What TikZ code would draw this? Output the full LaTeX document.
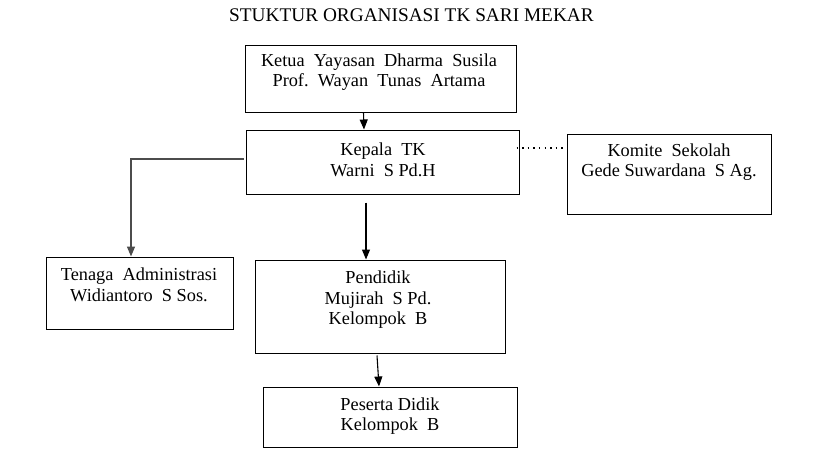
\documentclass[tikz,border=0pt]{standalone}
\usepackage{fontspec}
\setmainfont{Liberation Serif}
\usetikzlibrary{arrows.meta}
\begin{document}
\begin{tikzpicture}[x=1pt,y=-1pt,
  box/.style={draw,line width=1pt,inner sep=0pt},
  txt/.style={align=center,inner sep=0pt,font=\fontsize{18.3}{20.5}\selectfont},
  tip/.style={-{Triangle[width=8pt,length=10pt]}},
  arr/.style={line width=1.1pt,tip}]
\useasboundingbox (0,0) rectangle (814,455);
\fill[white] (0,0) rectangle (814,455);
\node[inner sep=0pt,font=\fontsize{19.3}{21}\selectfont] (title) at (411.5,15) {STUKTUR ORGANISASI TK SARI MEKAR};
% boxes
\node[box,minimum width=271pt,minimum height=67pt] (ketua) at (380.5,78.5) {};
\node[box,minimum width=273pt,minimum height=64pt] (kepala) at (382.5,162) {};
\node[box,minimum width=204pt,minimum height=80pt] (komite) at (669,174) {};
\node[box,minimum width=187pt,minimum height=72pt] (tenaga) at (139.5,293) {};
\node[box,minimum width=250pt,minimum height=93pt] (pendidik) at (380,306.5) {};
\node[box,minimum width=254pt,minimum height=60pt] (peserta) at (390,417) {};
% texts
\node[txt] (tketua) at (379,72) {Ketua\ \ Yayasan\ \ Dharma\ \ Susila\\Prof.\ \ Wayan\ \ Tunas\ \ Artama};
\node[txt] (tkepala) at (383,160) {Kepala\ \ TK\\Warni\ \ S Pd.H};
\node[txt] (tkomite) at (669,162) {Komite\ \ Sekolah\\Gede Suwardana\ \ S Ag.};
\node[txt] (ttenaga) at (139,285) {Tenaga\ \ Administrasi\\ Widiantoro\ \ S Sos.};
\node[txt] (tpendidik) at (378,300) {Pendidik\\Mujirah\ \ S Pd.\\Kelompok\ \ B};
\node[txt] (tpeserta) at (390,416) {Peserta Didik\\ Kelompok\ \ B};
% connectors
\draw[arr] ([xshift=-17pt]ketua.south) -- ([xshift=-18.5pt]kepala.north);
\draw[line width=1.3pt,gray!60!black,tip] ([xshift=-2pt,yshift=3pt]kepala.west) -| ([xshift=-8.5pt]tenaga.north);
\draw[arr] ([xshift=-16.5pt,yshift=-8pt]kepala.south) -- ([xshift=-14pt]pendidik.north);
\draw[arr] ([xshift=-3pt,yshift=-2pt]pendidik.south) -- ([xshift=-11pt]peserta.north);
\draw[line width=1.4pt,dash pattern=on 1.4pt off 4.2pt] ([xshift=-3pt,yshift=14pt]kepala.east) -- ([yshift=26pt]komite.west);
\end{tikzpicture}
\end{document}
